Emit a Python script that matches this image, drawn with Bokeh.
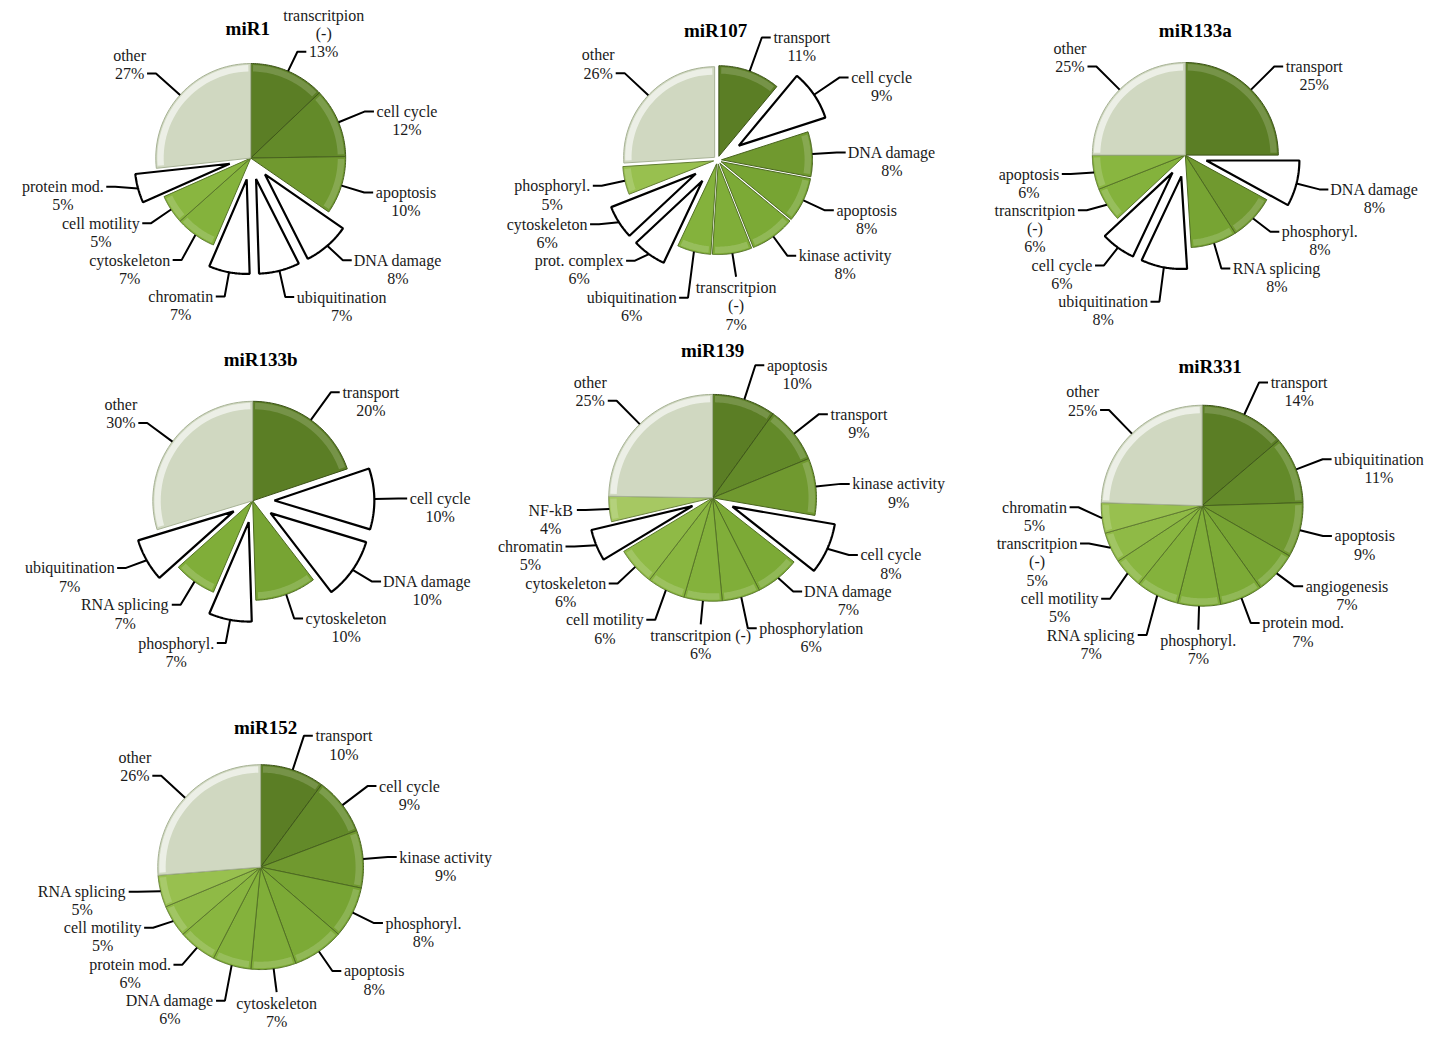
import numpy as np
from bokeh.plotting import figure
from bokeh.models import Range1d, ColumnDataSource
from bokeh.core.properties import value
from bokeh.embed import file_html
from bokeh.resources import INLINE

# ---------------- data ----------------
mir1_labels = ["transcritpion\n(-)", "cell cycle", "apoptosis", "DNA damage", "ubiquitination",
               "chromatin", "cytoskeleton", "cell motility", "protein mod.", "other"]
mir1_values = [13, 12, 10, 8, 7, 7, 7, 5, 5, 27]

mir107_labels = ["transport", "cell cycle", "DNA damage", "apoptosis", "kinase activity",
                 "transcritpion\n(-)", "ubiquitination", "prot. complex", "cytoskeleton",
                 "phosphoryl.", "other"]
mir107_values = [11, 9, 8, 8, 8, 7, 6, 6, 6, 5, 26]

mir133a_labels = ["transport", "DNA damage", "phosphoryl.", "RNA splicing", "ubiquitination",
                  "cell cycle", "transcritpion\n(-)", "apoptosis", "other"]
mir133a_values = [25, 8, 8, 8, 8, 6, 6, 6, 25]

mir133b_labels = ["transport", "cell cycle", "DNA damage", "cytoskeleton", "phosphoryl.",
                  "RNA splicing", "ubiquitination", "other"]
mir133b_values = [20, 10, 10, 10, 7, 7, 7, 30]

mir139_labels = ["apoptosis", "transport", "kinase activity", "cell cycle", "DNA damage",
                 "phosphorylation", "transcritpion (-)", "cell motility", "cytoskeleton",
                 "chromatin", "NF-kB", "other"]
mir139_values = [10, 9, 9, 8, 7, 6, 6, 6, 6, 5, 4, 25]

mir331_labels = ["transport", "ubiquitination", "apoptosis", "angiogenesis", "protein mod.",
                 "phosphoryl.", "RNA splicing", "cell motility", "transcritpion\n(-)",
                 "chromatin", "other"]
mir331_values = [14, 11, 9, 7, 7, 7, 7, 5, 5, 5, 25]

mir152_labels = ["transport", "cell cycle", "kinase activity", "phosphoryl.", "apoptosis",
                 "cytoskeleton", "DNA damage", "protein mod.", "cell motility", "RNA splicing",
                 "other"]
mir152_values = [10, 9, 9, 8, 8, 7, 6, 6, 5, 5, 26]

CHARTS = [("miR1", mir1_labels, mir1_values),
          ("miR107", mir107_labels, mir107_values),
          ("miR133a", mir133a_labels, mir133a_values),
          ("miR133b", mir133b_labels, mir133b_values),
          ("miR139", mir139_labels, mir139_values),
          ("miR331", mir331_labels, mir331_values),
          ("miR152", mir152_labels, mir152_values)]

# ---------------- layout / style ----------------
LAYOUT = {
    "miR1":    dict(c=(253, 160), r=96, t=(250, 28), base=0,
                    ex=["DNA damage", "ubiquitination", "chromatin", "protein mod."]),
    "miR107":  dict(c=(725, 162), r=92, t=(723, 30), base=4,
                    ex=["cell cycle", "prot. complex", "cytoskeleton"]),
    "miR133a": dict(c=(1198, 157), r=94, t=(1208, 30), base=0,
                    ex=["DNA damage", "ubiquitination", "cell cycle"]),
    "miR133b": dict(c=(255, 508), r=101, t=(263, 365), base=0,
                    ex=["cell cycle", "DNA damage", "phosphoryl.", "ubiquitination"]),
    "miR139":  dict(c=(720, 505), r=105, t=(720, 355), base=0,
                    ex=["cell cycle", "chromatin"]),
    "miR331":  dict(c=(1215, 513), r=102, t=(1223, 372), base=0, ex=[]),
    "miR152":  dict(c=(263, 880), r=104, t=(268, 738), base=0, ex=[]),
}
EXPLODE = 22
GREENS = ["#5b7e25", "#638a29", "#70992f", "#77a433", "#7caa36", "#80ae39",
          "#84b23c", "#89b640", "#8fba46", "#98c04f", "#a6c862", "#b0ce6e"]
OTHER = "#d0d8c1"
FONT = "Liberation Serif"
FS = 16
LH = 18.5
HSEG = 9
GAP = 3

CW = {'a': .444, 'b': .5, 'c': .444, 'd': .5, 'e': .444, 'f': .333, 'g': .5, 'h': .5,
      'i': .278, 'j': .278, 'k': .5, 'l': .278, 'm': .778, 'n': .5, 'o': .5, 'p': .5,
      'q': .5, 'r': .333, 's': .389, 't': .278, 'u': .5, 'v': .5, 'w': .722, 'x': .5,
      'y': .5, 'z': .444, ' ': .25, '%': .833, '(': .333, ')': .333, '-': .333, '.': .25}


def tw(s):
    return sum(CW.get(ch, .5 if ch.isdigit() else .7) for ch in s) * FS


def lighten(hx, f):
    r, g, b = (int(hx[i:i + 2], 16) for i in (1, 3, 5))
    r, g, b = (int(v + (255 - v) * f) for v in (r, g, b))
    return "#%02x%02x%02x" % (r, g, b)


def darken(hx, f):
    r, g, b = (int(hx[i:i + 2], 16) for i in (1, 3, 5))
    r, g, b = (int(v * (1 - f)) for v in (r, g, b))
    return "#%02x%02x%02x" % (r, g, b)


p = figure(width=1440, height=1038, output_backend="svg", toolbar_location=None,
           x_range=Range1d(0, 1456), y_range=Range1d(1054, 0), min_border=0)
p.axis.visible = False
p.grid.visible = False
p.outline_line_color = None
p.background_fill_color = "white"

sl = dict(xs=[], ys=[], fill=[], line=[], lw=[])
rim = dict(xs=[], ys=[], fill=[], alpha=[])
lead = dict(xs=[], ys=[])
txt = dict(x=[], y=[], text=[])
ttl = dict(x=[], y=[], text=[])


def d(a):
    return np.sin(a), -np.cos(a)


for name, labels, vals in CHARTS:
    L = LAYOUT[name]
    cx, cy = L["c"]
    r = L["r"]
    ttl["x"].append(L["t"][0]); ttl["y"].append(L["t"][1]); ttl["text"].append(name)
    tot = float(sum(vals))
    cum = 0.0
    blocks = []
    for i, (lab, v) in enumerate(zip(labels, vals)):
        a0 = cum / tot * 2 * np.pi
        cum += v
        a1 = cum / tot * 2 * np.pi
        am = (a0 + a1) / 2
        dx, dy = d(am)
        white = lab in L["ex"]
        off = L["base"] + (EXPLODE if white else 0)
        sx, sy = cx + off * dx, cy + off * dy
        aa = np.linspace(a0, a1, 40)
        px = np.concatenate([[sx], sx + r * np.sin(aa)])
        py = np.concatenate([[sy], sy - r * np.cos(aa)])
        sl["xs"].append(list(px)); sl["ys"].append(list(py))
        if white:
            sl["fill"].append("white"); sl["line"].append("black"); sl["lw"].append(2.2)
        else:
            col = OTHER if lab == "other" else GREENS[i]
            sl["fill"].append(col)
            sl["line"].append("#a7b295" if lab == "other" else darken(col, 0.35))
            sl["lw"].append(1)
            # bevel rim
            da = 2.5 / r
            ab = np.linspace(a0 + da, a1 - da, 30)
            ro, ri = r - 1.5, r - 8
            bx = np.concatenate([sx + ro * np.sin(ab), sx + ri * np.sin(ab[::-1])])
            by = np.concatenate([sy - ro * np.cos(ab), sy - ri * np.cos(ab[::-1])])
            rim["xs"].append(list(bx)); rim["ys"].append(list(by))
            rim["fill"].append(lighten(col, 0.75 if lab == "other" else 0.3))
            rim["alpha"].append(0.8 if lab == "other" else 0.55)
        # label block
        lines = lab.split("\n") + ["%d%%" % v]
        nl = len(lines)
        w = max(tw(s) for s in lines)
        R0 = r + off
        P0 = (cx + R0 * dx, cy + R0 * dy)
        lead_len = 24 + (13 * max(0.0, -dy) if nl < 3 else 0)
        E = [cx + (R0 + lead_len) * dx, cy + (R0 + lead_len) * dy]
        b = dict(P0=P0, E=E, lines=lines, w=w, nl=nl)
        if abs(dx) < 0.17:
            b["mode"] = 0
            b["cx"] = E[0]
            b["y0"] = E[1] + 11 if dy > 0 else E[1] - 11 - (nl - 1) * LH
        else:
            side = 1 if dx > 0 else -1
            b["mode"] = side
            att = nl - 1 if (dy < 0 and (side < 0 or nl > 2)) else 0
            b["y0"] = E[1] - att * LH
            b["cx"] = E[0] + side * (HSEG + GAP + tw(lines[att]) / 2)
        blocks.append(b)

    # simple collision relaxation between label blocks of one chart
    def rect(b):
        return (b["cx"] - b["w"] / 2 - 2, b["cx"] + b["w"] / 2 + 2,
                b["y0"] - 9, b["y0"] + (b["nl"] - 1) * LH + 9)

    for _ in range(200):
        moved = False
        for i in range(len(blocks)):
            for j in range(i + 1, len(blocks)):
                A, B = rect(blocks[i]), rect(blocks[j])
                if A[0] < B[1] and B[0] < A[1] and A[2] < B[3] and B[2] < A[3]:
                    ov = min(A[3], B[3]) - max(A[2], B[2])
                    up, dn = (blocks[i], blocks[j]) if A[2] + A[3] <= B[2] + B[3] \
                        else (blocks[j], blocks[i])
                    s = min(ov / 2 + 0.5, 3)
                    for bb, sg in ((up, -1), (dn, 1)):
                        bb["y0"] += sg * s
                        bb["E"][1] += sg * s
                    moved = True
        if not moved:
            break

    for b in blocks:
        top = b["y0"] - 9
        if top < 6:
            b["y0"] += 6 - top
            b["E"][1] += 6 - top
        P0, E = b["P0"], b["E"]
        if b["mode"] == 0:
            lead["xs"].append([P0[0], E[0]]); lead["ys"].append([P0[1], E[1]])
        else:
            H = E[0] + b["mode"] * HSEG
            lead["xs"].append([P0[0], E[0], H]); lead["ys"].append([P0[1], E[1], E[1]])
        for k, s in enumerate(b["lines"]):
            txt["x"].append(b["cx"]); txt["y"].append(b["y0"] + k * LH); txt["text"].append(s)

p.patches("xs", "ys", source=ColumnDataSource(sl), fill_color="fill", line_color="line",
          line_width="lw")
p.patches("xs", "ys", source=ColumnDataSource(rim), fill_color="fill", fill_alpha="alpha",
          line_color=None)
p.multi_line("xs", "ys", source=ColumnDataSource(lead), line_color="black", line_width=2)
p.text("x", "y", "text", source=ColumnDataSource(txt), text_align="center",
       text_baseline="middle", text_font=value(FONT), text_font_size="%dpx" % FS,
       text_color="#1a1a1a")
p.text("x", "y", "text", source=ColumnDataSource(ttl), text_align="center",
       text_baseline="middle", text_font=value(FONT), text_font_size="19px",
       text_font_style="bold", text_color="black")

open("out.html", "w").write(file_html(p, INLINE))
